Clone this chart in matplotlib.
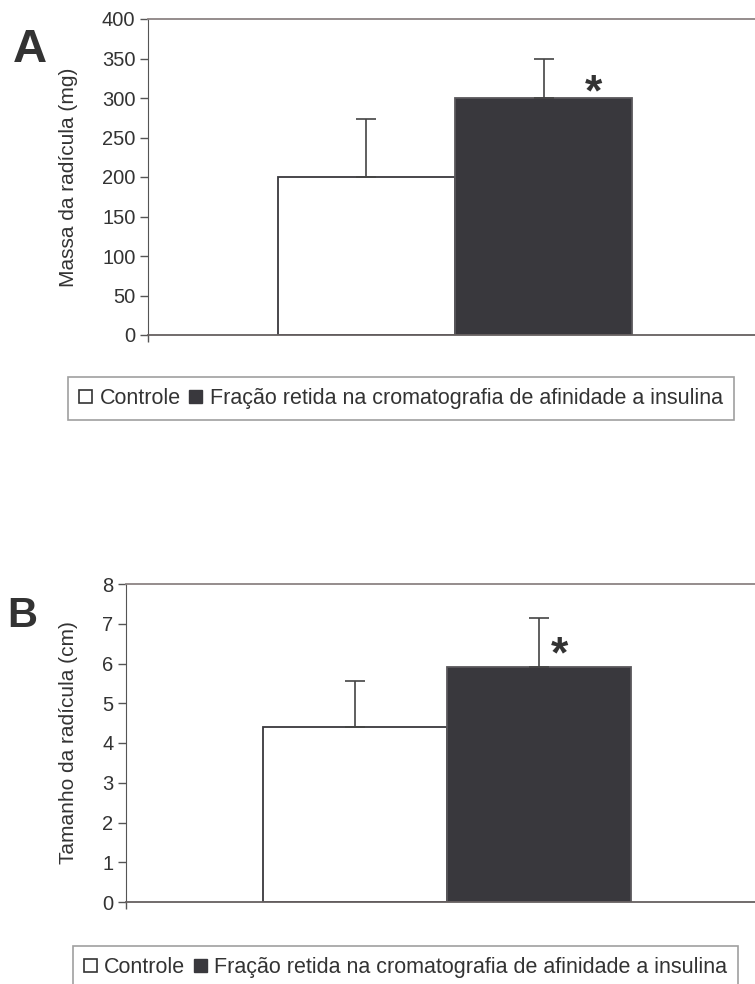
import numpy as np
import matplotlib.pyplot as plt
from matplotlib.patches import Patch

plt.rcParams['font.family'] = ['Liberation Sans', 'DejaVu Sans']

# Data
groups = ['Controle', 'Fração retida na cromatografia de afinidade a insulina']
massa = [200, 300]
massa_err = [73, 50]
tamanho = [4.4, 5.9]
tamanho_err = [1.15, 1.25]

text_c = '#333333'
dark = '#39383d'
frame_c = '#8c8484'

fig = plt.figure(figsize=(7.55, 9.84), dpi=100)


def draw_panel(ax, vals, errs, ylim, step, ylabel, xlim, star_xy, label_x):
    x = np.arange(len(vals))
    ax.bar(x, vals, width=1.0, color=['white', dark], edgecolor=[dark, '#5a585c'],
           linewidth=1.3, zorder=2)
    ax.errorbar(x, vals, yerr=[np.zeros(len(errs)), errs], fmt='none',
                ecolor='#444444', elinewidth=1.2, capsize=7, capthick=1.2, zorder=3)
    ax.set_xlim(*xlim)
    ax.set_ylim(*ylim)
    ax.set_yticks(np.arange(ylim[0], ylim[1] + step / 2, step))
    ax.set_xticks([xlim[0]])
    ax.set_xticklabels([])
    ax.tick_params(axis='x', direction='out', length=5, color='#555555', width=1)
    ax.tick_params(axis='y', direction='out', length=6, color='#555555', width=1,
                   labelsize=14.5, labelcolor=text_c, pad=3)
    ax.spines['right'].set_visible(False)
    ax.spines['top'].set_color(frame_c)
    ax.spines['top'].set_linewidth(1.3)
    ax.spines['left'].set_color('#555555')
    ax.spines['bottom'].set_color('#666060')
    ax.spines['bottom'].set_linewidth(1.3)
    ax.set_ylabel(ylabel, fontsize=15, color=text_c)
    ax.yaxis.set_label_coords(label_x, 0.5)
    ax.text(star_xy[0], star_xy[1], '*', fontsize=32, fontweight='bold',
            color=text_c, ha='center', va='center')


# Panel A
axA = fig.add_axes([148 / 755, 1 - 335 / 984, 614 / 755, 316 / 984])
draw_panel(axA, massa, massa_err, (0, 400), 50, 'Massa da radícula (mg)',
           (-1.234, 2.234), (1.28, 305), -0.114)

# Panel B
axB = fig.add_axes([126 / 755, 1 - 902 / 984, 642 / 755, 318 / 984])
draw_panel(axB, tamanho, tamanho_err, (0, 8), 1, 'Tamanho da radícula (cm)',
           (-1.245, 2.245), (1.11, 6.2), -0.075)

fig.text(13 / 755, 1 - 50 / 984, 'A', fontsize=34, fontweight='bold', color=text_c,
         va='center', ha='left')
fig.text(7 / 755, 1 - 616 / 984, 'B', fontsize=30, fontweight='bold', color=text_c,
         va='center', ha='left')

handles = [Patch(facecolor='white', edgecolor='#333333', linewidth=1.2, label=groups[0]),
           Patch(facecolor=dark, edgecolor=dark, label=groups[1])]

for cy, cx in [(398.5, 401), (967.5, 405.5)]:
    leg = fig.legend(handles=handles, loc='center', ncol=2,
                     bbox_to_anchor=(cx / 755, 1 - cy / 984), fontsize=15.5,
                     frameon=True, fancybox=False, edgecolor='#888888',
                     handlelength=0.6, handleheight=0.6, handletextpad=0.35,
                     columnspacing=0.4, borderpad=0.5, borderaxespad=0)
    leg.get_frame().set_linewidth(1.2)
    for t in leg.get_texts():
        t.set_color(text_c)

fig.savefig('out.png', dpi=100)
